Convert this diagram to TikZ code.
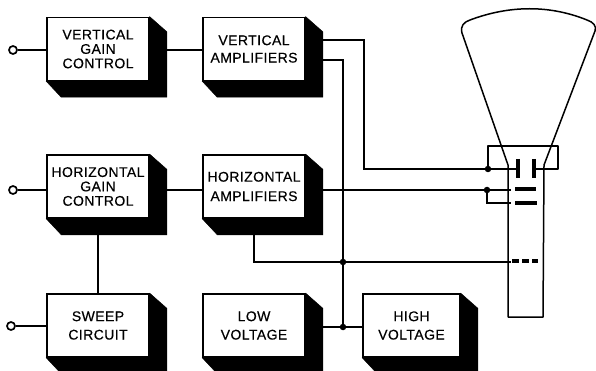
\documentclass[tikz,border=0pt]{standalone}
\usepackage{fontspec}
\setmainfont{Liberation Sans}[LetterSpace=3,BoldFont={Liberation Sans},BoldFeatures={FakeBold=0.4}]
\usetikzlibrary{calc,backgrounds}
\tikzset{
  wire/.style={line width=1.4pt,line join=miter},
  blockbox/.style={draw,fill=white,line width=1.5pt,inner sep=0pt,minimum width=102pt,minimum height=63pt,
    align=center,font=\fontsize{14}{14.4}\selectfont\bfseries},
  shade3d/.style={fill=black,draw=black,line width=.5pt},
  terminal/.style={circle,draw,fill=white,line width=1.7pt,inner sep=0pt,minimum size=8pt},
  junction/.style={circle,fill=black,inner sep=0pt,minimum size=6.5pt},
  plate/.style={line width=3.4pt},
  tube/.style={line width=1.5pt,line join=round},
}
\newcommand{\blockshadow}[1]{%
  \fill[shade3d] (#1.north east) -- ++(17,15) -- ($(#1.south east)+(17,16)$) -- ($(#1.south west)+(15,16)$) -- (#1.south west) -- cycle;}
\begin{document}
\begin{tikzpicture}[x=1pt,y=-1pt]
\useasboundingbox (0,0) rectangle (596,371);
% blocks
\node[blockbox] (vgc) at (98,49) {VERTICAL\\GAIN\\CONTROL};
\node[blockbox] (va) at (254,49) {VERTICAL\\[3pt]AMPLIFIERS};
\node[blockbox] (hgc) at (98,186.5) {HORIZONTAL\\GAIN\\CONTROL};
\node[blockbox] (ha) at (254,186.5) {HORIZONTAL\\[5pt]AMPLIFIERS};
\node[blockbox] (sw) at (98,325.5) {SWEEP\\[4pt]CIRCUIT};
\node[blockbox] (lv) at (254,325.5) {LOW\\[4pt]VOLTAGE};
\node[blockbox,minimum width=97pt] (hv) at (411.5,325.5) {HIGH\\[4pt]VOLTAGE};
\begin{pgfonlayer}{background}
  \blockshadow{vgc}\blockshadow{va}\blockshadow{hgc}\blockshadow{ha}\blockshadow{sw}\blockshadow{lv}\blockshadow{hv}
\end{pgfonlayer}
% terminals and junctions
\node[terminal] (t1) at (13,50) {};
\node[terminal] (t2) at (13,190) {};
\node[terminal] (t3) at (11,326) {};
\node[junction] (j1) at (488,169) {};
\node[junction] (j2) at (487,190) {};
\node[junction] (j3) at (343,262) {};
\node[junction] (j4) at (343,327) {};
% tube
\coordinate (nl) at (508,165);
\coordinate (nr) at (544,165);
\draw[tube] (nl) -- (462,33) .. controls (460,26) and (464,22) .. (470,20)
  .. controls (510,5) and (550,5) .. (587,20)
  .. controls (593,22) and (597,26) .. (595,31) -- (nr);
\draw[tube] (nl) -- (508,317) -- (543,317) -- (nr);
\coordinate (dl) at (488,169);
\coordinate (dr) at (558,169);
\draw[tube] (dl) -- (488,146) -- (558,146) -- (dr) -- (535,169);
\draw[plate] (518,159) -- (518,178);
\draw[plate] (534,159) -- (534,178);
\draw[plate] (515,189) -- (536,189);
\draw[plate] (515,203) -- (537,203);
\draw[plate,dash pattern=on 6.5pt off 3.5pt] (512,261) -- (538,261);
% connectors
\begin{scope}[on background layer]
  \draw[wire] (t1) -- (vgc.west |- t1);
  \draw[wire] (t2) -- (hgc.west |- t2);
  \draw[wire] (t3) -- (sw.west |- t3);
  \draw[wire] (vgc.center |- t1) -- (va.center |- t1);
  \draw[wire] (hgc.center |- t2) -- (ha.center |- t2);
  \draw[wire] (hgc) -- (sw);
  \draw[wire] (va.center |- 0,40) -| (364,169) -- (j1) -- (518,169);
  \draw[wire] (va.center |- 0,60) -| (j3);
  \draw[wire] (j3) -- (j4);
  \draw[wire] (ha.center |- j2) -- (j2) -- (511,190);
  \draw[wire] (j2) |- (511,203);
  \draw[wire] (ha) -- (ha.center |- j3) -- (j3) -- (511,262);
  \draw[wire] (lv.center |- j4) -- (j4) -- (hv.west |- j4);
\end{scope}
\end{tikzpicture}
\end{document}
